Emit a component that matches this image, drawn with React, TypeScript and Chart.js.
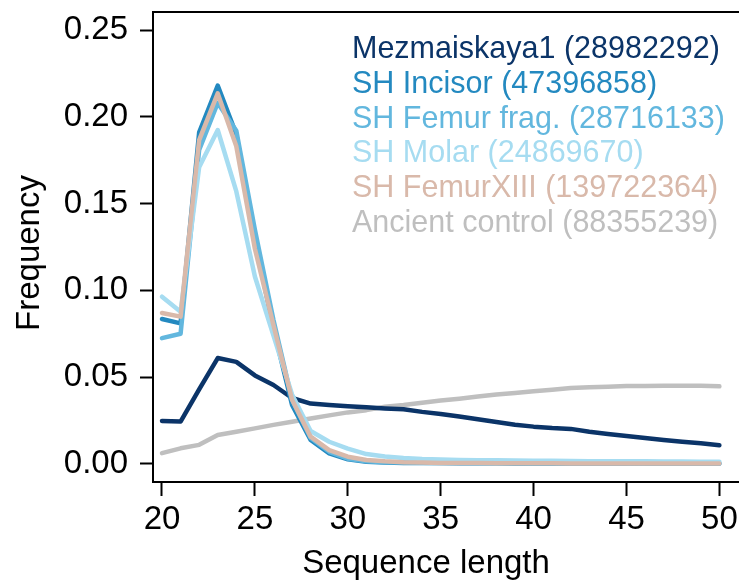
import React, { useEffect, useRef } from "react";
import { Chart, registerables } from "chart.js";

Chart.register(...registerables);

// ---- data ----
const LENGTHS = [20, 21, 22, 23, 24, 25, 26, 27, 28, 29, 30, 31, 32, 33, 34, 35, 36, 37, 38, 39, 40, 41, 42, 43, 44, 45, 46, 47, 48, 49, 50];

const SERIES_NAMES = ["Mezmaiskaya1", "SH Incisor", "SH Femur frag.", "SH Molar", "SH FemurXIII", "Ancient control"];
const READ_COUNTS = ["28982292", "47396858", "28716133", "24869670", "139722364", "88355239"];
const SERIES_COLORS = ["#0b3468", "#2389c0", "#62b7de", "#a6dcf1", "#d9b9aa", "#bfbfbf"];

const MEZMAISKAYA1 = [0.0248, 0.0244, 0.043, 0.061, 0.0588, 0.051, 0.0455, 0.038, 0.0348, 0.034, 0.0332, 0.0326, 0.032, 0.0315, 0.030, 0.0288, 0.0273, 0.0257, 0.0242, 0.0226, 0.0215, 0.0207, 0.0202, 0.0186, 0.0173, 0.0161, 0.015, 0.0138, 0.0128, 0.0119, 0.0108];
const SH_INCISOR = [0.0835, 0.081, 0.191, 0.218, 0.190, 0.129, 0.078, 0.034, 0.0138, 0.0061, 0.0027, 0.0013, 0.0008, 0.0006, 0.0005, 0.0005, 0.0004, 0.0004, 0.0004, 0.0003, 0.0003, 0.0003, 0.0003, 0.0003, 0.0003, 0.0003, 0.0002, 0.0002, 0.0002, 0.0002, 0.0002];
const SH_FEMUR_FRAG = [0.0725, 0.075, 0.181, 0.208, 0.192, 0.135, 0.083, 0.037, 0.015, 0.007, 0.003, 0.0015, 0.001, 0.0008, 0.0007, 0.0006, 0.0006, 0.0005, 0.0005, 0.0005, 0.0004, 0.0004, 0.0004, 0.0004, 0.0004, 0.0004, 0.0003, 0.0003, 0.0003, 0.0003, 0.0003];
const SH_MOLAR = [0.0964, 0.0877, 0.171, 0.1924, 0.157, 0.108, 0.074, 0.040, 0.019, 0.0128, 0.0088, 0.0057, 0.0043, 0.0034, 0.0028, 0.0025, 0.0023, 0.0022, 0.0021, 0.002, 0.0019, 0.0018, 0.0017, 0.0016, 0.0016, 0.0015, 0.0015, 0.0014, 0.0014, 0.0013, 0.0013];
const SH_FEMUR_XIII = [0.087, 0.0849, 0.1866, 0.2135, 0.183, 0.124, 0.080, 0.037, 0.0157, 0.008, 0.0042, 0.0023, 0.0015, 0.001, 0.0008, 0.0006, 0.0005, 0.0005, 0.0004, 0.0004, 0.0004, 0.0004, 0.0003, 0.0003, 0.0003, 0.0003, 0.0003, 0.0003, 0.0003, 0.0003, 0.0003];
const ANCIENT_CONTROL = [0.0062, 0.009, 0.011, 0.0167, 0.0186, 0.0205, 0.0225, 0.0243, 0.0262, 0.028, 0.0297, 0.031, 0.033, 0.034, 0.0353, 0.0365, 0.0376, 0.0388, 0.040, 0.0409, 0.0419, 0.0428, 0.0438, 0.0442, 0.0445, 0.0449, 0.0449, 0.0451, 0.0451, 0.045, 0.0447];

const SERIES_VALUES = [MEZMAISKAYA1, SH_INCISOR, SH_FEMUR_FRAG, SH_MOLAR, SH_FEMUR_XIII, ANCIENT_CONTROL];
// drawing order (lower = on top)
const SERIES_ORDER = [4, 3, 2, 1, 0, 5];

const X_TICKS = [20, 25, 30, 35, 40, 45, 50];
const Y_TICKS = [0, 0.05, 0.1, 0.15, 0.2, 0.25];
const X_TITLE = "Sequence length";
const Y_TITLE = "Frequency";

const FONT = '"Liberation Sans", Arial, Helvetica, sans-serif';

const decorPlugin = {
  id: "decor",
  afterDraw(chart: any) {
    const { ctx, chartArea: a } = chart;
    ctx.save();
    // top border of the box
    ctx.strokeStyle = "#000";
    ctx.lineWidth = 2;
    ctx.beginPath();
    ctx.moveTo(a.left - 1, a.top);
    ctx.lineTo(a.right, a.top);
    ctx.stroke();

    // legend (text only)
    ctx.font = `30.5px ${FONT}`;
    ctx.textAlign = "left";
    ctx.textBaseline = "alphabetic";
    SERIES_NAMES.forEach((name, i) => {
      ctx.fillStyle = SERIES_COLORS[i];
      ctx.fillText(`${name} (${READ_COUNTS[i]})`, a.left + 199, a.top + 46 + i * 34.8);
    });

    // axis titles
    ctx.fillStyle = "#000";
    ctx.font = `33px ${FONT}`;
    ctx.textAlign = "center";
    ctx.textBaseline = "middle";
    ctx.fillText(X_TITLE, 426, 564);
    ctx.translate(30, 253);
    ctx.rotate(-Math.PI / 2);
    ctx.fillText(Y_TITLE, 0, 0);
    ctx.restore();
  },
};

export default function App() {
  const ref = useRef<HTMLCanvasElement | null>(null);

  useEffect(() => {
    if (!ref.current) return;
    const datasets = SERIES_NAMES.map((name, i) => ({
      label: name,
      data: LENGTHS.map((x, j) => ({ x, y: SERIES_VALUES[i][j] })),
      borderColor: SERIES_COLORS[i],
      backgroundColor: SERIES_COLORS[i],
      borderWidth: 4.5,
      pointRadius: 0,
      tension: 0,
      fill: false,
      borderCapStyle: "round" as const,
      borderJoinStyle: "round" as const,
      order: SERIES_ORDER[i],
    }));

    const chart = new Chart(ref.current, {
      type: "line",
      data: { datasets },
      options: {
        animation: false,
        responsive: true,
        maintainAspectRatio: false,
        devicePixelRatio: 1,
        layout: { padding: { top: 12, left: 0, right: 0, bottom: 0 } },
        plugins: { legend: { display: false }, tooltip: { enabled: false } },
        scales: {
          x: {
            type: "linear",
            min: 19.516,
            max: 51.056,
            afterBuildTicks: (axis: any) => {
              axis.ticks = X_TICKS.map((v) => ({ value: v }));
            },
            afterFit: (axis: any) => {
              axis.height = 101;
              axis.paddingLeft = 0;
              axis.paddingRight = 0;
            },
            ticks: {
              color: "#000",
              font: { family: FONT, size: 33 },
              padding: 4,
              maxRotation: 0,
              autoSkip: false,
            },
            grid: {
              drawOnChartArea: false,
              drawTicks: true,
              tickLength: 14,
              tickWidth: 2,
              tickColor: "#000",
            },
            border: { display: true, color: "#000", width: 2 },
          },
          y: {
            type: "linear",
            min: -0.0104,
            max: 0.2604,
            afterBuildTicks: (axis: any) => {
              axis.ticks = Y_TICKS.map((v) => ({ value: v }));
            },
            afterFit: (axis: any) => {
              axis.width = 153;
              axis.paddingTop = 0;
              axis.paddingBottom = 0;
            },
            ticks: {
              color: "#000",
              font: { family: FONT, size: 33 },
              padding: 12,
              callback: (v: any) => Number(v).toFixed(2),
            },
            grid: {
              drawOnChartArea: false,
              drawTicks: true,
              tickLength: 13,
              tickWidth: 2,
              tickColor: "#000",
            },
            border: { display: true, color: "#000", width: 2 },
          },
        },
      },
      plugins: [decorPlugin],
    });
    return () => chart.destroy();
  }, []);

  return (
    <div style={{ position: "absolute", left: 0, top: 0, width: 739, height: 583, background: "#fff" }}>
      <canvas ref={ref} />
    </div>
  );
}
